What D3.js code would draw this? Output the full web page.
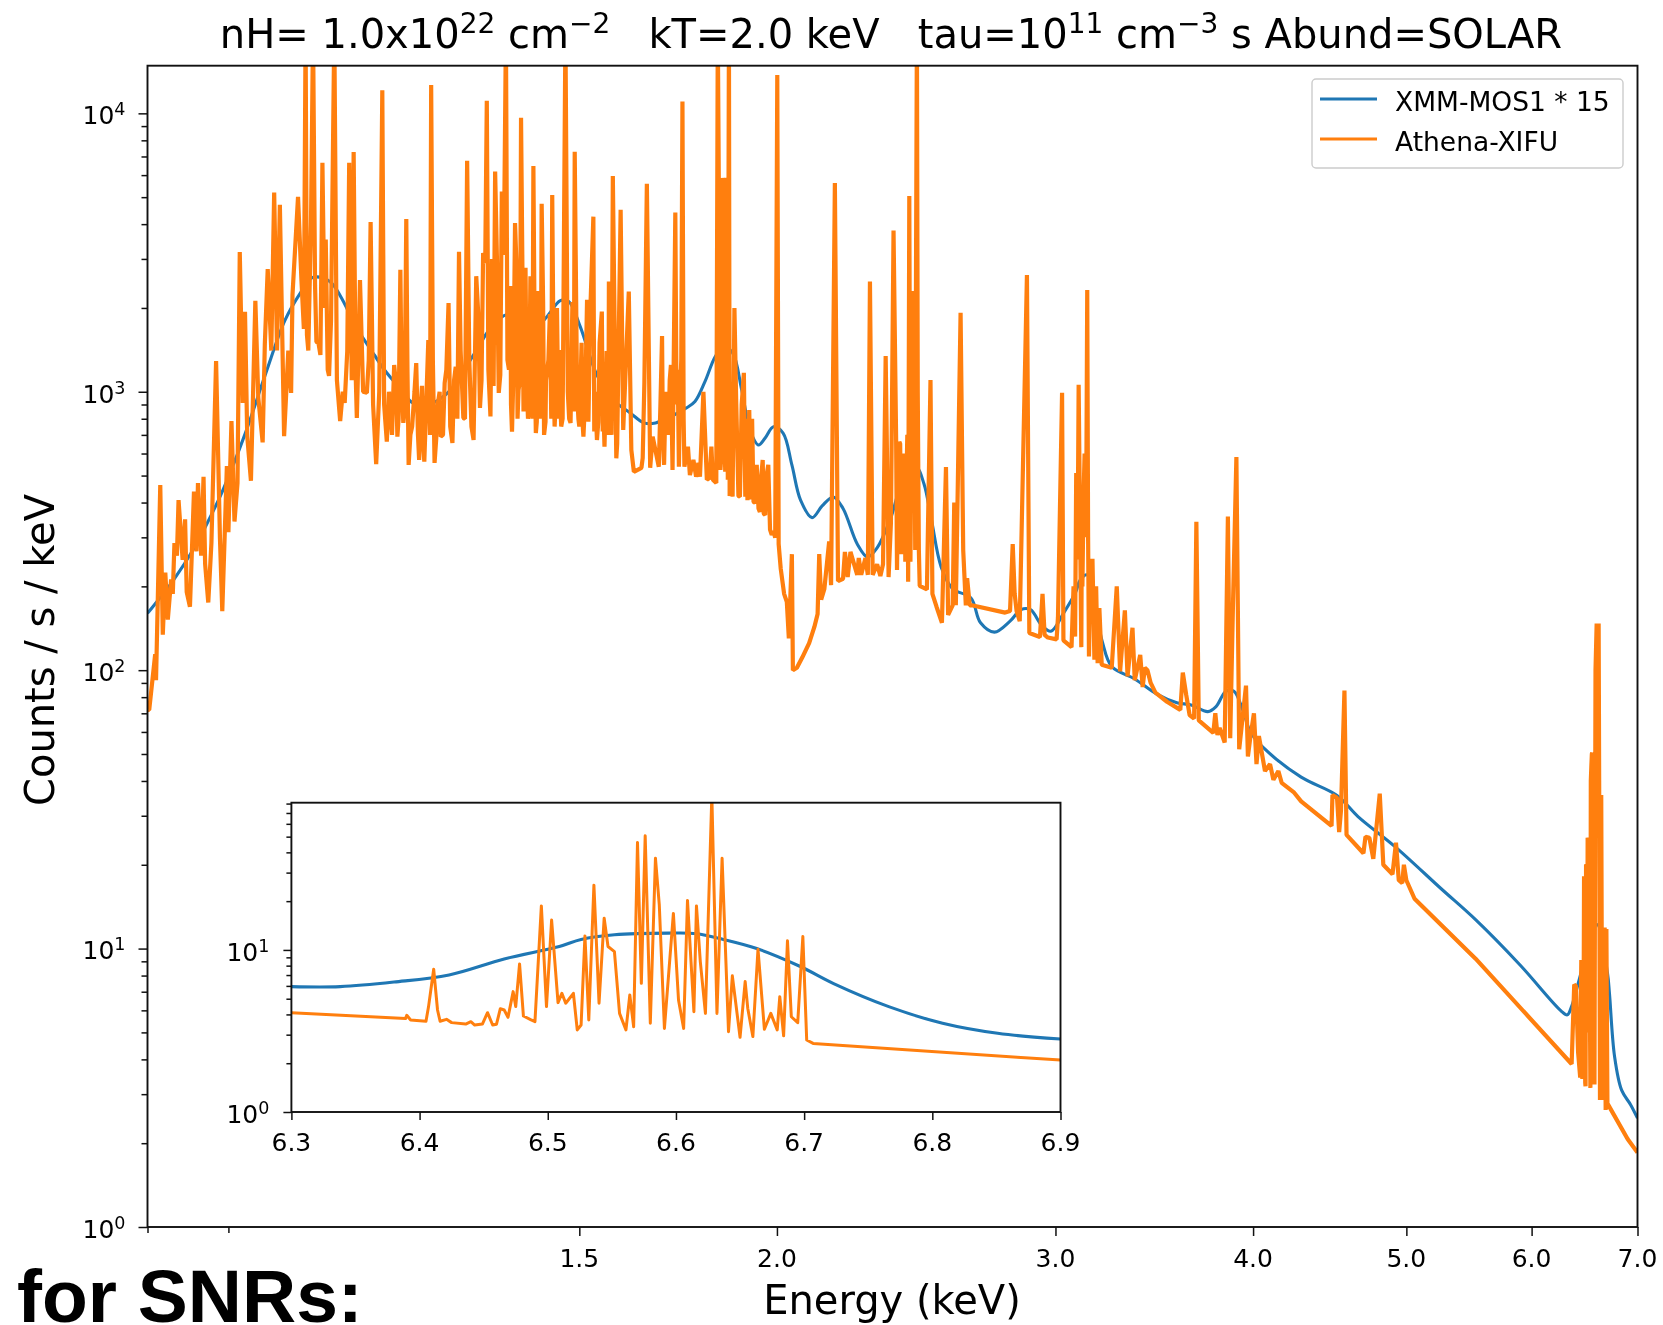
<!DOCTYPE html>
<html><head><meta charset="utf-8">
<script src="https://cdn.jsdelivr.net/npm/d3@7/dist/d3.min.js"></script>
<style>
html,body{margin:0;padding:0;background:#fff;overflow:hidden}
svg{display:block;filter:blur(0.7px)}
text{font-family:"DejaVu Sans",sans-serif;fill:#000;white-space:pre}
.snr{font-family:"Liberation Sans",Arial,sans-serif;font-weight:700;fill:#000}
</style></head><body>
<div id="chart"></div>
<script>
// ---- values: [energy keV, counts/s/keV] ----
const blueMain = [[.8,160],[.814,181],[.83,209],[.857,277],[.871,330],[.892,438],[.921,693],[.95,1158],[.977,1800],[.9995,2265],[1.016,2564],[1.033,2564],[1.047,2440],[1.064,2110],[1.082,1738],[1.113,1356],[1.126,1227],[1.14,1122],[1.162,991],[1.176,914],[1.201,897],[1.222,934],[1.247,1031],[1.286,1356],[1.328,1786],[1.36,1905],[1.392,1738],[1.41,1724],[1.431,1860],[1.459,2124],[1.477,2108],[1.502,1714],[1.539,1148],[1.576,934],[1.616,838],[1.648,773],[1.676,773],[1.753,875],[1.775,922],[1.801,1087],[1.828,1336],[1.85,1451],[1.875,1380],[1.9,1016],[1.923,729],[1.947,644],[1.966,682],[1.99,749],[2.018,710],[2.044,546],[2.07,408],[2.105,353],[2.136,389],[2.171,419],[2.202,381],[2.248,284],[2.282,255],[2.314,275],[2.359,349],[2.41,502],[2.449,537],[2.477,468],[2.504,349],[2.54,235],[2.583,196],[2.652,182],[2.69,148],[2.745,137],[2.808,150],[2.853,165],[2.893,165],[2.94,145],[2.98,138],[3.037,161],[3.09,191],[3.11,211],[3.142,220],[3.21,128],[3.256,103],[3.367,93],[3.477,82],[3.58,76.4],[3.655,75],[3.745,71],[3.79,74],[3.845,84],[3.89,84],[3.94,72],[3.985,60],[4.07,52],[4.29,41.3],[4.52,35.5],[4.66,29.8],[4.92,23.2],[5.26,16.4],[5.53,12.7],[5.9,8.73],[6.26,5.99],[6.32,5.78],[6.36,6.2],[6.4,7],[6.5,9.6],[6.6,12.2],[6.7,8.2],[6.72,6.9],[6.77,4.1],[6.84,3.1],[6.93,2.75],[7,2.46]];

const orangeLow = [[.8,72],[.802,72],[.809,114],[.81,92],[.815,462],[.818,134],[.821,224],[.824,152],[.828,212],[.83,188],[.832,286],[.835,258],[.837,408],[.842,249],[.845,348],[.847,191],[.851,169],[.856,438],[.859,267],[.861,470],[.865,258],[.868,495],[.87,241],[.874,175],[.878,286],[.884,1290],[.889,297],[.892,163],[.898,541],[.9,313],[.904,785],[.908,342],[.912,470],[.915,3177],[.919,912],[.922,1936],[.925,693],[.93,479],[.936,2120],[.94,953],[.946,658],[.949,1486],[.953,2760],[.958,1406],[.962,5200],[.966,1406],[.97,4690],[.976,693],[.982,1406],[.986,991],[.988,2228],[.996,5010],[1.0045,1683],[1.007,20000],[1.011,1406],[1.015,4074],[1.018,20000],[1.023,1510],[1.029,1355],[1.032,6650],[1.037,3524],[1.042,1140],[1.05,20000],[1.059,785],[1.066,912],[1.073,6650],[1.08,7260],[1.085,805],[1.09,2520],[1.101,991],[1.107,4074],[1.116,550],[1.126,12100]];

const orangeSoft = [[1.1334,662],[1.1456,1248],[1.151,690],[1.156,2740],[1.161,773],[1.166,4170],[1.17,546],[1.176,750],[1.183,1268],[1.188,569],[1.193,1050],[1.197,561],[1.204,1535],[1.209,12650],[1.215,555],[1.221,912],[1.226,690],[1.233,1076],[1.24,2084],[1.247,655],[1.253,1230],[1.259,3184],[1.267,805],[1.274,6760],[1.286,671],[1.295,1862],[1.298,875],[1.304,3150],[1.311,11100],[1.318,815],[1.327,6180],[1.334,991],[1.34,5236],[1.348,20000],[1.354,1200],[1.36,719],[1.366,4036],[1.373,1016],[1.378,9640],[1.385,991],[1.387,2786],[1.394,885],[1.403,6470],[1.408,711],[1.42,4730],[1.425,700],[1.434,1300],[1.442,5094],[1.449,885],[1.456,1413],[1.461,750],[1.47,20000],[1.481,773],[1.49,7280],[1.5,750],[1.509,690],[1.517,2138],[1.531,4256],[1.539,671],[1.55,1940],[1.556,635],[1.566,2487],[1.575,5960],[1.583,577],[1.593,4500]];

const orangeNe = [[1.599,729],[1.612,2290],[1.618,618],[1.624,516],[1.642,533],[1.645,578],[1.649,1076],[1.655,5580],[1.663,533],[1.669,690],[1.684,538],[1.692,1585],[1.697,546],[1.705,912],[1.714,1248],[1.718,524],[1.725,4400],[1.734,538],[1.743,11020],[1.748,538],[1.757,635],[1.762,502],[1.771,569],[1.778,495],[1.784,555],[1.788,495],[1.797,1000],[1.806,483],[1.813,490],[1.818,635],[1.822,483],[1.831,470],[1.835,20000],[1.842,524],[1.848,5860],[1.855,516],[1.859,5860],[1.862,483],[1.865,20000],[1.867,422],[1.88,2000],[1.891,422],[1.906,1169],[1.916,408],[1.921,860],[1.933,402],[1.942,546],[1.947,381],[1.959,569],[1.966,361],[1.975,546],[1.985,306],[1.99,316],[1.995,299],[2.001,13740],[2.005,284]];

const orangeSi = [[2.011,232],[2.021,188],[2.029,176],[2.035,130],[2.044,261],[2.047,100],[2.059,102],[2.075,111],[2.096,125],[2.112,143],[2.122,159],[2.127,261],[2.133,179],[2.143,196],[2.158,290],[2.164,202],[2.176,5620],[2.186,209],[2.202,213],[2.208,266],[2.217,216],[2.226,266],[2.248,220],[2.253,253],[2.261,220],[2.275,253],[2.283,220],[2.29,2490],[2.299,220],[2.314,240],[2.325,218],[2.334,240],[2.343,1345],[2.353,216],[2.361,338],[2.37,3796],[2.379,671],[2.382,229],[2.39,661],[2.397,261],[2.404,511],[2.411,245],[2.421,208],[2.425,5050],[2.429,245],[2.439,2300],[2.446,270],[2.452,20000],[2.459,270],[2.462,201],[2.488,195],[2.501,1102],[2.508,188],[2.523,169],[2.543,148],[2.558,537],[2.566,158],[2.583,171],[2.589,400],[2.595,171],[2.613,1920],[2.623,270],[2.633,171],[2.638,214],[2.648,171]];

const orangeS = [[2.656,171],[2.788,161],[2.808,163],[2.819,284],[2.827,188],[2.835,163],[2.848,150],[2.878,2626],[2.888,136],[2.933,131.5],[2.944,188],[2.953,134],[2.967,131],[3.005,129],[3.011,155],[3.029,991],[3.035,128],[3.071,121],[3.087,132],[3.092,511],[3.103,1059],[3.115,121],[3.125,408],[3.142,2321],[3.15,112],[3.166,251],[3.175,109],[3.183,200],[3.19,106],[3.198,167],[3.209,104.5],[3.256,102],[3.28,200],[3.296,99],[3.319,164],[3.332,95],[3.356,142],[3.367,92],[3.394,113.5],[3.406,87],[3.417,102],[3.43,100],[3.446,90],[3.47,83],[3.529,77],[3.598,72],[3.611,98],[3.629,81.5],[3.647,69],[3.671,67],[3.683,341],[3.696,66],[3.775,59.5],[3.786,70],[3.798,58.5],[3.81,62],[3.838,55],[3.856,356],[3.869,57],[3.884,165],[3.904,583],[3.92,52]];

const orangeHigh = [[3.959,88],[3.97,49],[3.985,58],[4.005,70],[4.02,46],[4.034,58],[4.07,43.4],[4.1,46],[4.12,40.4],[4.15,43.4],[4.17,39.4],[4.243,36.5],[4.29,33.8],[4.484,27.6],[4.49,35.6],[4.52,34.8],[4.534,26.2],[4.546,31.3],[4.569,84.5],[4.583,25.6],[4.697,22],[4.711,25.2],[4.738,25],[4.765,21],[4.81,36],[4.835,20],[4.9,18.5],[4.925,24],[4.945,17.6],[4.97,17.2],[4.982,20],[5,17.6],[5.06,15.1],[5.53,9.2],[6.36,3.85]];

const orangeFe = [[6.384,7.43],[6.4,7.34],[6.42,4.25],[6.44,3.44],[6.45,9.1],[6.47,3.44],[6.476,18.2],[6.49,3.2],[6.515,24.6],[6.536,3.16],[6.554,50.5],[6.575,3.25],[6.596,147],[6.615,147],[6.628,2.86],[6.64,35.6],[6.652,2.86],[6.673,11.9],[6.683,2.63],[6.69,11.75],[6.7,2.78],[6.9,2.07],[7,1.85]];

// faint lines packed between the stronger ones
const orangePacked = [[1.001,2500],[1.009,1600],[1.021,2400],[1.026,1500],[1.035,2000],[1.04,1200],[1.045,1800],[1.054,1100],[1.063,1000],[1.07,1400],[1.077,1100],[1.083,1200],[1.088,1500],[1.095,1000],[1.104,1300],[1.111,900],[1.121,1000],
[1.129,900],[1.137,1000],[1.142,700],[1.149,1050],[1.153,800],[1.158,1100],[1.163,850],[1.168,1200],[1.173,700],[1.18,1000],[1.186,700],[1.191,900],[1.195,650],[1.201,1000],[1.207,700],[1.212,1300],[1.218,680],[1.224,1000],[1.23,700],[1.236,1200],[1.243,750],[1.25,1100],[1.256,800],[1.262,1400],[1.27,800],[1.278,1300],[1.282,750],[1.289,1500],
[1.291,2600],[1.301,1100],[1.308,2900],[1.314,1200],[1.321,3000],[1.324,1050],[1.331,2700],[1.337,1150],[1.344,3100],[1.351,1300],[1.357,2400],[1.363,1200],[1.369,2800],[1.376,1100],[1.381,2500],[1.389,1150],[1.397,2600],[1.406,1250],[1.412,2300],[1.416,1050],[1.423,2100],[1.429,1100],[1.437,1900],[1.445,1200],[1.452,2000],[1.458,1050],[1.466,2300],[1.475,1000],[1.485,2100],[1.495,1000],[1.505,1500],[1.513,950],[1.524,1900],[1.535,1000],[1.545,1500],[1.553,950],[1.561,1400],[1.57,1000],[1.58,1300],
[1.358,900],[1.371,800],[1.383,850],[1.392,800],[1.401,800],[1.41,780],[1.418,800],[1.428,780],[1.44,800],[1.447,750],[1.455,800],[1.464,800],[1.478,800],[1.488,850],[1.498,800],[1.507,780],[1.52,780],[1.533,720],[1.542,780],[1.552,720],[1.565,700],[1.572,700],[1.585,650],
[1.688,900],[1.694,700],[1.701,1000],[1.708,700],[1.711,1100],[1.716,800],[1.721,1300],[1.728,900],[1.731,1200],[1.737,1000],[1.74,1300],[1.746,800],
[1.838,5000],[1.845,600],[1.851,5500],[1.853,700],[1.857,5500],[1.872,800],[1.875,420],[1.885,900],[1.895,420],[1.9,900],[1.91,420],[1.913,800],[1.925,410],[1.929,800],[1.937,400],[1.951,370],[1.955,500],[1.962,365],[1.97,500],[1.98,320],
[2.386,500],[2.393,650],[2.4,520],[2.408,600],[2.415,480],[2.418,700],[2.433,800],[2.436,600],[2.443,1100],[2.449,3000],[2.455,1000],
[3.08,200],[3.095,300],[3.098,250],[3.107,500],[3.11,300],[3.118,400],[3.12,200],[3.13,600],[3.135,300],[3.138,500],[3.146,300],[3.155,200],[3.16,180],
[6.455,6],[6.46,3.4],[6.465,8],[6.48,16],[6.483,12],[6.487,3.3],[6.495,20],[6.5,20],[6.505,5],[6.51,25],[6.52,24],[6.525,22],[6.53,8],[6.54,40],[6.545,45],[6.55,50],[6.56,20],[6.565,5],[6.585,100],[6.605,100],[6.62,40],[6.635,20],[6.645,10],[6.66,11],[6.665,4]];

const blueInset = [[6.3,5.94],[6.338,5.94],[6.38,6.34],[6.423,7.01],[6.466,8.79],[6.509,10.5],[6.526,11.6],[6.552,12.4],[6.594,12.7],[6.616,12.6],[6.637,11.6],[6.663,10.2],[6.697,7.9],[6.723,6.2],[6.766,4.47],[6.808,3.53],[6.851,3.06],[6.9,2.82]];

const orangeInset = [[6.3,4.1],[6.389,3.77],[6.39,3.95],[6.393,3.7],[6.405,3.63],[6.407,4.47],[6.411,7.6],[6.414,4.26],[6.416,3.63],[6.421,3.73],[6.425,3.56],[6.436,3.49],[6.44,3.61],[6.443,3.44],[6.449,3.49],[6.453,4.1],[6.457,3.44],[6.46,3.48],[6.463,4.34],[6.466,4.26],[6.469,3.84],[6.473,5.53],[6.475,4.47],[6.478,8.2],[6.481,3.91],[6.487,3.7],[6.49,3.61],[6.495,18.7],[6.499,4.47],[6.503,15.3],[6.508,4.73],[6.511,5.4],[6.514,4.69],[6.516,4.91],[6.52,5.4],[6.523,3.21],[6.526,3.44],[6.529,12.2],[6.532,3.7],[6.536,25.1],[6.54,4.69],[6.544,15.7],[6.547,10.5],[6.552,9.77],[6.556,4.06],[6.561,3.21],[6.564,5.27],[6.567,3.36],[6.57,46],[6.573,6.22],[6.576,50.6],[6.58,3.53],[6.584,36.8],[6.587,19],[6.591,3.28],[6.598,16.8],[6.602,4.91],[6.606,3.28],[6.609,20.2],[6.614,4.16],[6.616,18.7],[6.619,8.47],[6.623,4.06],[6.628,90],[6.632,4.06],[6.636,36.8],[6.641,3.13],[6.644,6.92],[6.65,2.89],[6.654,6.38],[6.656,4.37],[6.66,2.92],[6.664,10.1],[6.669,3.24],[6.674,4.06],[6.679,3.21],[6.681,5.15],[6.684,2.95],[6.687,11.4],[6.69,3.87],[6.695,3.56],[6.699,12.1],[6.702,2.78],[6.707,2.65],[6.9,2.09]];

const xTicksMain = [1.5,2,3,4,5,6,7];
const xMinorMain = [.8,.9];
const xTicksInset = [6.3,6.4,6.5,6.6,6.7,6.8,6.9];
const seriesNames = ["XMM-MOS1 * 15","Athena-XIFU"];
const colors = ["#1f77b4","#ff7f0e"];
const title = [["nH= 1.0x10"],["22",1],[" cm"],["\u22122",1],["   kT=2.0 keV   tau=10"],["11",1],[" cm"],["\u22123",1],[" s Abund=SOLAR"]];

// ---- layout ----
const W=1663,H=1325;
const main={l:147.5,r:1637.5,t:65.7,b:1227};
const ins={l:291.4,r:1060.5,t:802.7,b:1112};
const svg=d3.select("#chart").append("svg").attr("width",W).attr("height",H);
const x=d3.scaleLog().domain([.8,7]).range([main.l,main.r]);
const y=d3.scaleLog().domain([1,14830]).range([main.b,main.t]);
const xi=d3.scaleLinear().domain([6.3,6.9]).range([ins.l,ins.r]);
const yi=d3.scaleLog().domain([1,81]).range([ins.b,ins.t]);

const defs=svg.append("defs");
function clip(id,b){defs.append("clipPath").attr("id",id).append("rect").attr("x",b.l).attr("y",b.t).attr("width",b.r-b.l).attr("height",b.b-b.t);}
clip("cm",main);clip("ci",ins);

const ink="#111";
function styleAxis(g){g.selectAll("path.domain").remove();g.selectAll("line").attr("stroke",ink).attr("stroke-width",1.5);g.selectAll("text").remove();}
function decadeMinors(lo,hi){const o=[];for(let d=lo;d<hi;d*=10)for(let m=2;m<=9;m++){const v=m*d;if(v<=hi)o.push(v);}return o;}
function powLabel(g,scale,vals,ax,fs){
  vals.forEach(v=>{
    const t=g.append("text").attr("x",ax).attr("y",scale(v)+fs*.43).attr("text-anchor","end").attr("font-size",fs);
    t.append("tspan").text("10");
    t.append("tspan").attr("dy",-fs*.36).attr("font-size",fs*.7).text(Math.round(Math.log10(v)));
  });
}
function spines(g,b){g.append("rect").attr("x",b.l).attr("y",b.t).attr("width",b.r-b.l).attr("height",b.b-b.t).attr("fill","none").attr("stroke",ink).attr("stroke-width",1.9);}

// ---- main axes ----
const gm=svg.append("g");
gm.append("rect").attr("x",main.l).attr("y",main.t).attr("width",main.r-main.l).attr("height",main.b-main.t).attr("fill","#fff");
const lineM=d3.line().x(d=>x(d[0])).y(d=>y(d[1]));
const plot=gm.append("g").attr("clip-path","url(#cm)");
plot.append("path").datum(blueMain).attr("d",lineM.curve(d3.curveCatmullRom.alpha(.5))).attr("fill","none").attr("stroke",colors[0]).attr("stroke-width",3.1);
const orangeMain=[...orangeLow,...orangeSoft,...orangeNe,...orangeSi,...orangeS,...orangeHigh,...orangeFe,...orangePacked].sort((a,b)=>d3.ascending(a[0],b[0]));
plot.append("path").datum(orangeMain).attr("d",lineM.curve(d3.curveLinear)).attr("fill","none").attr("stroke",colors[1]).attr("stroke-width",4.2).attr("stroke-linejoin","bevel");

gm.append("g").attr("transform",`translate(${main.l},0)`).call(d3.axisLeft(y).tickValues(decadeMinors(1,10000)).tickSize(6).tickFormat("")).call(styleAxis);
gm.append("g").attr("transform",`translate(${main.l},0)`).call(d3.axisLeft(y).tickValues([1,10,100,1000,10000]).tickSize(9).tickFormat("")).call(styleAxis);
gm.append("g").attr("transform",`translate(0,${main.b})`).call(d3.axisBottom(x).tickValues(xMinorMain).tickSize(6).tickFormat("")).call(styleAxis);
gm.append("g").attr("transform",`translate(0,${main.b})`).call(d3.axisBottom(x).tickValues(xTicksMain).tickSize(9).tickFormat("")).call(styleAxis);
spines(gm,main);
powLabel(gm,y,[1,10,100,1000,10000],main.l-22,25);
xTicksMain.forEach(v=>gm.append("text").attr("x",x(v)).attr("y",main.b+40).attr("text-anchor","middle").attr("font-size",25).text(d3.format(".1f")(v)));

// ---- title and axis names ----
const tt=svg.append("text").attr("x",891).attr("y",47.5).attr("text-anchor","middle").attr("font-size",40);
let pending=0;
title.forEach(([s,sup])=>{const sp=tt.append("tspan").text(s);
  if(sup){sp.attr("font-size",28).attr("dy",-15);pending=15;}else if(pending){sp.attr("dy",pending);pending=0;}});
svg.append("text").attr("x",892).attr("y",1314).attr("text-anchor","middle").attr("font-size",40).text("Energy (keV)");
svg.append("text").attr("transform","translate(54,650) rotate(-90)").attr("text-anchor","middle").attr("font-size",40).text("Counts / s / keV");
svg.append("text").attr("class","snr").attr("x",17).attr("y",1322).attr("font-size",75).text("for SNRs:");

// ---- legend ----
const lg=svg.append("g");
lg.append("rect").attr("x",1312).attr("y",79).attr("width",311).attr("height",89).attr("rx",4).attr("fill","#fff").attr("fill-opacity",.85).attr("stroke","#ccc").attr("stroke-width",1.4);
seriesNames.forEach((n,i)=>{const yy=99+i*40;
  lg.append("line").attr("x1",1320).attr("x2",1377).attr("y1",yy).attr("y2",yy).attr("stroke",colors[i]).attr("stroke-width",3.2);
  lg.append("text").attr("x",1395).attr("y",yy+12).attr("font-size",26.5).text(n);
});

// ---- inset ----
const gi=svg.append("g");
gi.append("rect").attr("x",ins.l).attr("y",ins.t).attr("width",ins.r-ins.l).attr("height",ins.b-ins.t).attr("fill","#fff");
const lineI=d3.line().x(d=>xi(d[0])).y(d=>yi(d[1]));
const pi=gi.append("g").attr("clip-path","url(#ci)");
pi.append("path").datum(blueInset).attr("d",lineI.curve(d3.curveCatmullRom.alpha(.5))).attr("fill","none").attr("stroke",colors[0]).attr("stroke-width",3.1);
pi.append("path").datum(orangeInset).attr("d",lineI.curve(d3.curveLinear)).attr("fill","none").attr("stroke",colors[1]).attr("stroke-width",3).attr("stroke-linejoin","round");
gi.append("g").attr("transform",`translate(${ins.l},0)`).call(d3.axisLeft(yi).tickValues(decadeMinors(1,81)).tickSize(5).tickFormat("")).call(styleAxis);
gi.append("g").attr("transform",`translate(${ins.l},0)`).call(d3.axisLeft(yi).tickValues([1,10]).tickSize(8).tickFormat("")).call(styleAxis);
gi.append("g").attr("transform",`translate(0,${ins.b})`).call(d3.axisBottom(xi).tickValues(xTicksInset).tickSize(8).tickFormat("")).call(styleAxis);
spines(gi,ins);
powLabel(gi,yi,[1,10],ins.l-22,25);
xTicksInset.forEach(v=>gi.append("text").attr("x",xi(v)).attr("y",ins.b+39).attr("text-anchor","middle").attr("font-size",25).text(d3.format(".1f")(v)));
</script>
</body></html>
